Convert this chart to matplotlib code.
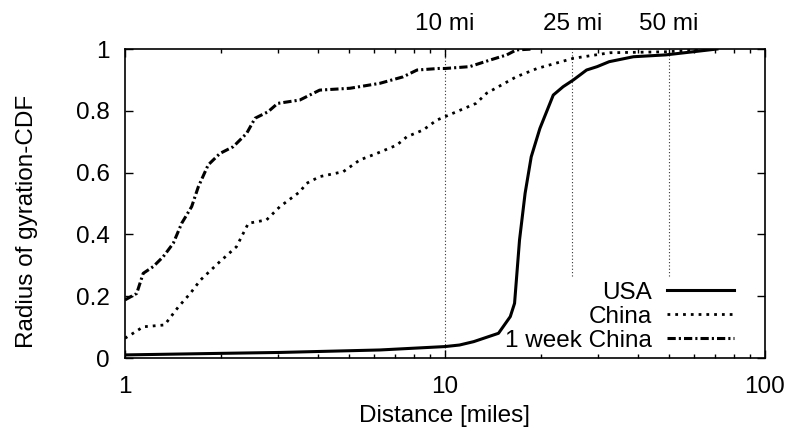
# -*- coding: utf-8 -*-

import matplotlib
matplotlib.use('Agg')
import matplotlib.pyplot as plt
import matplotlib.ticker as ticker
import numpy

# CDF значения
usa_x = [1.0, 1.98, 3.05, 6.26, 10.0, 11.1, 12.3, 14.7, 16.0, 16.5, 17.1, 17.8,
         18.6, 19.8, 21.8, 23.4, 25.2, 27.7, 29.9, 32.6, 38.8, 49.0, 59.5, 70.8]
usa_y = [0.010, 0.015, 0.018, 0.026, 0.037, 0.042, 0.053, 0.080, 0.134, 0.177,
         0.382, 0.533, 0.651, 0.743, 0.851, 0.878, 0.900, 0.932, 0.943, 0.959,
         0.975, 0.981, 0.991, 1.0]

china_x = [1.0, 1.06, 1.14, 1.33, 1.47, 1.60, 1.72, 1.98, 2.23, 2.43, 2.77, 3.05,
           3.52, 3.69, 4.06, 4.81, 5.42, 6.12, 7.07, 7.6, 8.55, 9.43, 10.0, 12.5,
           13.5, 16.7, 19.4, 25.2, 32.8, 49.0, 70.8]
china_y = [0.064, 0.080, 0.101, 0.107, 0.166, 0.209, 0.252, 0.312, 0.360, 0.436,
           0.447, 0.490, 0.538, 0.565, 0.587, 0.603, 0.641, 0.662, 0.689, 0.716,
           0.738, 0.770, 0.781, 0.824, 0.857, 0.910, 0.937, 0.970, 0.988, 0.991, 1.0]

week_x = [1.0, 1.088, 1.14, 1.226, 1.317, 1.415, 1.504, 1.616, 1.695, 1.82, 1.98,
          2.18, 2.40, 2.55, 2.80, 3.0, 3.52, 4.06, 5.05, 6.26, 7.4, 8.18, 9.54,
          10.0, 11.95, 13.8, 15.6, 16.7, 18.8]
week_y = [0.188, 0.209, 0.274, 0.296, 0.328, 0.371, 0.436, 0.490, 0.554, 0.625,
          0.662, 0.684, 0.727, 0.776, 0.797, 0.824, 0.835, 0.867, 0.873, 0.889,
          0.910, 0.932, 0.937, 0.937, 0.943, 0.964, 0.981, 0.997, 1.0]

marker_miles = [10, 25, 50]
marker_labels = ['10 mi', '25 mi', '50 mi']
marker_bottom = [0.0, 0.265, 0.265]

plt.rcParams['font.family'] = ['Liberation Sans', 'DejaVu Sans']
plt.rcParams['font.size'] = 17.5

fig = plt.figure(figsize=(7.9, 4.33), dpi=100)
ax = fig.add_axes([0.1582, 0.1732, 0.8101, 0.7136])

# Вертикальные пунктирные линии с подписями
for m, lab, b in zip(marker_miles, marker_labels, marker_bottom):
    ax.axvline(m, ymin=b, ymax=1, color='#333333', lw=0.8, ls=(0, (1, 2)), zorder=1)
    ax.text(m, 1.061, lab, transform=ax.get_xaxis_transform(),
            ha='center', va='baseline')

ax.plot(usa_x, usa_y, color='black', lw=2.2, label='USA', zorder=3)
ax.plot(china_x, china_y, color='black', lw=2.0, ls=(0, (1, 1.8)), label='China', zorder=3)
ax.plot(week_x, week_y, color='black', lw=2.2, ls=(0, (2.7, 1.0, 0.7, 1.0)),
        label='1 week China', zorder=3)

ax.set_xscale('log')
ax.set_xlim(1, 100)
ax.set_ylim(0, 1)
ax.xaxis.set_major_formatter(ticker.FuncFormatter(lambda v, p: '%g' % v))
ax.xaxis.set_minor_formatter(ticker.NullFormatter())
ax.set_yticks(numpy.arange(0, 1.01, 0.2))
ax.yaxis.set_major_formatter(ticker.FuncFormatter(lambda v, p: '%g' % round(v, 1)))

ax.tick_params(which='major', direction='in', length=6, width=1,
               top=True, right=True)
ax.tick_params(which='minor', direction='in', length=3, width=1,
               top=True, right=True)
ax.tick_params(axis='x', which='major', pad=13)
ax.tick_params(axis='y', which='major', pad=11)
for s in ax.spines.values():
    s.set_linewidth(1.2)

ax.set_xlabel('Distance [miles]')
ax.set_ylabel('Radius of gyration-CDF')
ax.xaxis.set_label_coords(0.5, -0.152)
ax.yaxis.set_label_coords(-0.136, 0.443)

ax.legend(loc='lower right', bbox_to_anchor=(0.952, 0.02), frameon=False,
          markerfirst=False, handlelength=2.75, handletextpad=0.62,
          labelspacing=0.08, borderpad=0, borderaxespad=0)

fig.savefig('out.png', dpi=100)
